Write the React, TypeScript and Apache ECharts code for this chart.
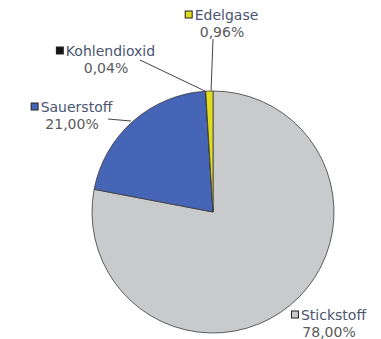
import React, { useEffect, useRef } from "react";
import * as echarts from "echarts";

const names = ["Stickstoff", "Sauerstoff", "Kohlendioxid", "Edelgase"];
const values = [78.0, 21.0, 0.04, 0.96];
const colors = ["#c9cacc", "#4665b6", "#141414", "#e2dc1e"];

// label anchor positions (x center, y top) and leader line points
const labelPos: { x: number; y: number }[] = [
  { x: 329, y: 306 },
  { x: 72, y: 98 },
  { x: 106, y: 42 },
  { x: 222, y: 6 },
];
const linePts: (number[][] | null)[] = [
  null,
  [[131, 121], [108, 119]],
  [[207, 92], [140, 60]],
  [[211, 92], [213, 39]],
];

export default function App() {
  const ref = useRef<HTMLDivElement>(null);
  useEffect(() => {
    if (!ref.current) return;
    const chart = echarts.init(ref.current, undefined, { renderer: "svg" });
    const fmt = (v: number) => v.toFixed(2).replace(".", ",") + "%";
    const font = "DejaVu Sans";
    chart.setOption({
      animation: false,
      backgroundColor: "#ffffff",
      series: [
        {
          type: "pie",
          center: [213, 212],
          radius: 121,
          startAngle: 90,
          clockwise: true,
          avoidLabelOverlap: false,
          itemStyle: { borderColor: "#3a3a3a", borderWidth: 0.8 },
          label: {
            show: true,
            position: "outside",
            fontFamily: font,
            fontSize: 14,
            lineHeight: 16,
            color: "#4a5266",
            align: "center",
          },
          labelLine: {
            show: true,
            lineStyle: { color: "#444", width: 1 },
          },
          labelLayout: (params: any) => {
            const i = params.dataIndex;
            const p = labelPos[i];
            const res: any = {
              x: p.x,
              y: p.y,
              align: "center",
              verticalAlign: "top",
            };
            if (linePts[i]) res.labelLinePoints = linePts[i];
            return res;
          },
          data: names.map((n, i) => ({
            name: n,
            value: values[i],
            itemStyle: { color: colors[i] },
            labelLine: { show: linePts[i] !== null },
            label: {
              formatter: "{sq|}{nm|" + n + "}\n{pc|" + fmt(values[i]) + "}",
              rich: {
                sq: {
                  width: 6,
                  height: 6,
                  backgroundColor: colors[i],
                  borderColor: "#222",
                  borderWidth: 1,
                  padding: 0,
                },
                nm: {
                  fontFamily: font,
                  fontSize: 14,
                  lineHeight: 17,
                  color: "#4a5470",
                  padding: [0, 0, 0, 3],
                },
                pc: {
                  fontFamily: font,
                  fontSize: 14,
                  lineHeight: 17,
                  color: "#5a5a5a",
                },
              },
            },
          })),
        },
      ],
    });
    return () => chart.dispose();
  }, []);
  return (
    <div
      ref={ref}
      style={{ position: "absolute", left: 0, top: 0, width: 381, height: 339 }}
    />
  );
}
